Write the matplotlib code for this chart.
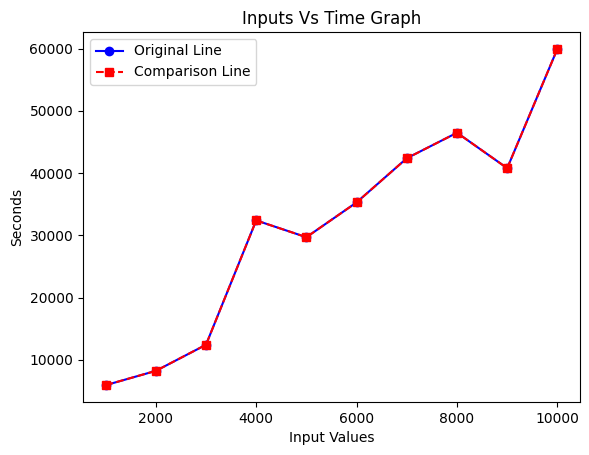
import matplotlib
matplotlib.use("Agg")
import matplotlib.pyplot as plt

inputs = [1000, 2000, 3000, 4000, 5000, 6000, 7000, 8000, 9000, 10000]
seconds = [5900, 8200, 12400, 32400, 29700, 35300, 42400, 46500, 40800, 60000]
comparison = [5900, 8200, 12400, 32400, 29700, 35300, 42400, 46500, 40800, 60000]

fig = plt.figure(figsize=(5.89, 4.55), dpi=100)
ax = fig.add_axes([83/589, 1 - 402/455, (580-83)/589, (402-32)/455])
ax.plot(inputs, seconds, color="blue", marker="o", label="Original Line")
ax.plot(inputs, comparison, color="red", marker="s", linestyle="--", label="Comparison Line")
ax.set_title("Inputs Vs Time Graph")
ax.set_xlabel("Input Values")
ax.set_ylabel("Seconds")
ax.legend(loc="upper left")
fig.savefig("out.png")
